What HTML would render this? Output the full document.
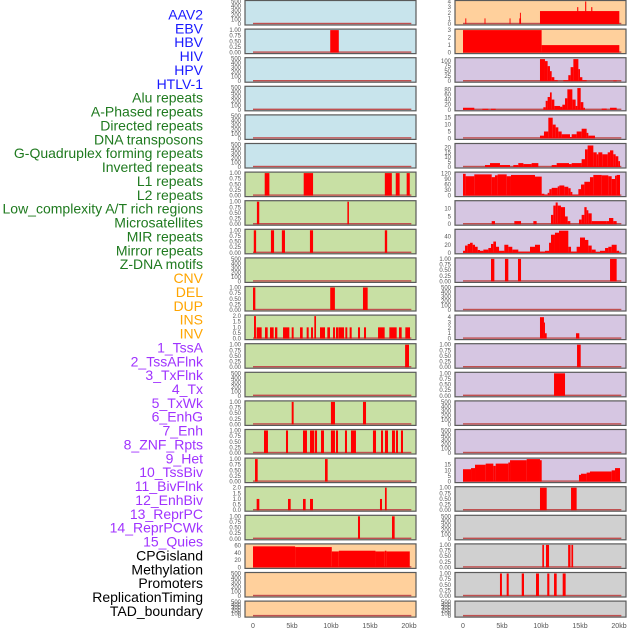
<!DOCTYPE html>
<html><head><meta charset="utf-8"><style>
html,body{margin:0;padding:0;background:#fff;width:630px;height:630px;overflow:hidden}
svg{display:block;font-family:"Liberation Sans",sans-serif}
</style></head><body>
<svg id="chart" width="630" height="630"></svg>
<script>
const labels=["AAV2","EBV","HBV","HIV","HPV","HTLV-1","Alu repeats","A-Phased repeats","Directed repeats","DNA transposons","G-Quadruplex forming repeats","Inverted repeats","L1 repeats","L2 repeats","Low_complexity A/T rich regions","Microsatellites","MIR repeats","Mirror repeats","Z-DNA motifs","CNV","DEL","DUP","INS","INV","1_TssA","2_TssAFlnk","3_TxFlnk","4_Tx","5_TxWk","6_EnhG","7_Enh","8_ZNF_Rpts","9_Het","10_TssBiv","11_BivFlnk","12_EnhBiv","13_ReprPC","14_ReprPCWk","15_Quies","CPGisland","Methylation","Promoters","ReplicationTiming","TAD_boundary"];
const labelColors=["#1a1aff","#1a1aff","#1a1aff","#1a1aff","#1a1aff","#1a1aff","#1f7a1f","#1f7a1f","#1f7a1f","#1f7a1f","#1f7a1f","#1f7a1f","#1f7a1f","#1f7a1f","#1f7a1f","#1f7a1f","#1f7a1f","#1f7a1f","#1f7a1f","#ffa500","#ffa500","#ffa500","#ffa500","#ffa500","#a033ff","#a033ff","#a033ff","#a033ff","#a033ff","#a033ff","#a033ff","#a033ff","#a033ff","#a033ff","#a033ff","#a033ff","#a033ff","#a033ff","#a033ff","#000","#000","#000","#000","#000"];
const xTicks=[0,5,10,15,20];
const xTickLabels=["0","5kb","10kb","15kb","20kb"];
// panel y-max per track (left column then right column)
const leftMax=[500,1,500,500,500,500,1,1,1,500,1,2,1,500,1,1,1,2,1,62,500,500];
const rightMax=[4,3,112,88,16.3,23,122,14.5,56,1,500,4.2,1,1,500,500,20,1,500,1,1,500];
const leftBg=["#c8e4ec","#c8e4ec","#c8e4ec","#c8e4ec","#c8e4ec","#c8e4ec","#c8e0a4","#c8e0a4","#c8e0a4","#c8e0a4","#c8e0a4","#c8e0a4","#c8e0a4","#c8e0a4","#c8e0a4","#c8e0a4","#c8e0a4","#c8e0a4","#c8e0a4","#ffd09c","#ffd09c","#ffd09c"];
const rightBg=["#ffd09c","#ffd09c","#d6c6e2","#d6c6e2","#d6c6e2","#d6c6e2","#d6c6e2","#d6c6e2","#d6c6e2","#d6c6e2","#d6c6e2","#d6c6e2","#d6c6e2","#d6c6e2","#d6c6e2","#d6c6e2","#d6c6e2","#d0d0d0","#d0d0d0","#d0d0d0","#d0d0d0","#d0d0d0"];
// segments [startKb, endKb, value]
const L02=[[9.9,11.0,1]];
const L07=[[1.5,2.1,1],[6.5,7.7,1],[16.9,17.8,1],[18.3,18.8,1],[19.7,20.1,1]];
const L08=[[0.5,0.8,1],[12.1,12.3,1]];
const L09=[[0.1,0.4,1],[2.3,2.7,1],[3.7,4.1,1],[7.3,7.7,1],[16.9,17.2,1]];
const L11=[[0,0.3,1],[9.9,10.5,1],[14.1,14.7,1]];
const L12=[[0.13,0.38,2],[0.47,1.11,1],[1.54,1.88,1],[2.18,2.65,1],[2.82,3.12,1],[3.85,4.66,1],[4.96,5.21,1],[6.03,6.37,1],[6.88,7.14,1],[7.44,7.69,1],[7.86,8.08,2],[8.59,9.23,1],[9.53,9.87,1],[10.26,10.51,1],[10.64,10.94,1],[10.98,11.67,1],[11.84,12.09,1],[12.39,12.65,1],[13.46,13.72,1],[14.23,14.49,1],[16.03,16.88,1],[17.48,18.42,1],[18.72,19.06,1],[19.53,20.13,1]];
const L13=[[19.5,20.0,1]];
const L15=[[4.96,5.21,1],[9.99,10.51,1],[14.1,14.49,1]];
const L16=[[1.41,1.92,1],[4.23,4.49,1],[6.41,6.92,1],[7.31,7.86,1],[7.95,8.21,1],[8.72,9.1,1],[9.99,10.51,1],[10.64,10.9,1],[11.79,12.05,1],[12.56,13.2,1],[15.38,15.77,1],[16.41,16.67,1],[16.92,17.31,1],[17.82,18.2,1],[18.33,18.59,1],[18.97,19.23,1]];
const L17=[[0.26,0.6,1],[9.23,9.57,1]];
const L18=[[0.47,0.81,1],[4.49,4.83,1],[6.41,6.75,1],[7.31,7.69,1],[16.28,16.54,1],[16.92,17.14,2]];
const L19=[[13.46,13.72,1],[17.82,18.16,1]];
const L20=[[0,5.4,58],[5.4,10.1,56],[10.1,11.0,44],[11.0,15.7,46],[15.7,16.9,44],[16.9,17.1,46],[17.1,20.1,44]];
const R01=[[0.3,0.42,1],[2.76,2.88,1],[5.97,6.09,1],[7.22,7.44,1],[7.3,7.42,2],[9.87,20.04,2.3],[14.64,14.78,3],[15.66,15.8,4],[16.44,16.58,3]];
const R02=[[0,10.08,3],[10.08,20.04,1]];
const R03=[[9.87,10.51,110],[10.51,10.85,100],[10.85,11.15,75],[11.15,11.37,50],[11.37,11.71,20],[11.71,12.14,5],[12.86,13.5,5],[13.5,13.8,30],[13.8,14.15,70],[14.15,14.79,110],[14.79,15.0,60],[15.0,15.3,20],[15.3,15.85,5],[19.27,19.7,3]];
const R04=[[0,1.45,8],[2.48,3.25,4],[3.59,4.19,4],[10.3,10.6,10],[10.6,10.85,35],[10.85,11.15,50],[11.15,11.37,68],[11.37,11.71,40],[11.71,12.44,15],[12.44,12.74,12],[12.74,13.08,20],[13.08,13.38,45],[13.38,14.02,80],[14.02,14.44,40],[14.44,14.66,15],[14.66,15.09,85],[15.09,15.43,30],[15.43,15.64,8],[17.78,18.42,5],[18.85,19.7,8]];
const R05=[[9.87,10.38,2],[10.38,10.94,5],[10.94,11.5,15],[11.5,11.88,10],[11.88,12.22,8],[12.22,12.65,5],[12.65,13.72,3],[13.72,13.93,1],[13.93,14.57,3],[14.57,15.21,5],[15.21,15.85,7],[15.85,16.07,4],[16.07,16.92,2]];
const R06=[[2.82,3.46,2],[3.46,4.74,4],[4.74,6.03,2],[6.45,7.09,2],[7.09,7.74,4],[7.74,8.8,3],[8.8,9.66,4],[11.37,12.01,2],[12.01,13.59,4],[13.59,13.93,3],[13.93,15.21,4],[15.21,15.64,8],[15.64,15.98,18],[15.98,16.71,22],[16.71,17.14,15],[17.14,17.35,13],[17.35,17.86,15],[17.86,18.55,13],[18.55,18.85,15],[18.85,19.27,17],[19.27,19.57,13],[19.57,19.91,11],[19.91,20.13,6]];
const R07=[[0,0.34,118],[0.34,1.45,105],[1.45,3.68,115],[3.68,4.1,100],[4.1,4.44,110],[4.44,5.6,115],[5.6,6.15,105],[6.15,9.23,112],[9.23,10.09,103],[10.09,10.43,10],[10.43,10.85,5],[10.85,11.07,15],[11.07,11.37,35],[11.37,12.14,42],[12.14,12.35,50],[12.35,12.99,55],[12.99,13.5,48],[13.5,13.8,40],[13.8,14.02,20],[14.02,14.79,5],[14.79,15.13,35],[15.13,15.56,60],[15.56,16.28,75],[16.28,16.71,100],[16.71,17.78,112],[17.78,18.63,110],[18.63,19.06,105],[19.06,19.49,90],[19.49,19.7,108],[19.7,20.13,112]];
const R08=[[3.68,4.1,2],[6.58,7.44,2],[9.02,9.44,2],[11.28,11.58,6],[11.58,11.88,12],[11.88,12.14,14],[12.14,12.56,12],[12.56,13.08,11],[13.08,13.42,5],[13.42,13.76,2],[14.87,15.21,3],[15.21,15.56,6],[15.56,15.85,11],[15.85,16.07,9],[16.07,16.5,7],[16.5,18.42,2],[18.42,18.72,2],[18.72,19.27,4],[19.27,19.7,2]];
const R09=[[0,0.26,5],[0.26,0.6,18],[0.6,0.9,22],[0.9,1.24,25],[1.24,1.54,20],[1.54,1.88,15],[1.88,2.18,7],[2.18,2.61,5],[2.61,3.25,8],[3.25,3.59,12],[3.59,3.89,22],[3.89,4.23,28],[4.23,4.62,15],[4.62,5.3,5],[5.3,5.81,20],[5.81,6.32,15],[6.32,7.09,8],[7.09,8.59,3],[8.59,9.23,15],[9.23,9.87,20],[9.87,10.51,3],[10.51,11.03,5],[11.03,11.28,25],[11.28,11.79,45],[11.79,12.31,50],[12.31,13.5,55],[13.5,13.85,15],[13.85,14.57,3],[14.57,15.0,15],[15.0,15.64,38],[15.64,16.07,32],[16.07,16.5,18],[16.5,17.01,8],[17.01,17.56,2],[17.56,18.21,5],[18.21,18.63,12],[18.63,19.06,15],[19.06,19.7,20],[19.7,20.0,5]];
const R10=[[3.59,4.02,1],[5.38,5.81,1],[7.05,7.44,1],[18.85,19.7,1]];
const R12=[[9.87,10.38,4],[10.38,10.51,3],[10.51,10.73,1],[14.49,14.91,1]];
const R13=[[14.62,15.09,1]];
const R14=[[11.67,13.08,1]];
const R17=[[0,1.03,11],[1.03,1.54,12],[1.54,2.91,15],[2.91,3.89,16],[3.89,4.19,14],[4.19,5.81,16],[5.81,6.03,17],[6.03,8.16,19],[8.16,9.87,20],[9.87,10.09,19],[14.87,15.13,6],[15.13,15.85,7],[15.85,16.28,8],[16.28,19.06,9],[19.06,19.49,10],[19.49,20.13,12]];
const R18=[[9.87,10.73,1],[13.85,14.57,1]];
const R20=[[10.17,10.38,1],[10.64,11.03,1],[13.48,13.78,1],[13.9,14.12,1]];
const R21=[[4.74,4.99,1],[5.6,5.86,1],[7.53,7.82,1],[9.36,9.74,1],[10.8,11.07,1],[11.67,12.01,1],[12.78,13.16,1]];
const leftData=[[],L02,[],[],[],[],L07,L08,L09,[],L11,L12,L13,[],L15,L16,L17,L18,L19,L20,[],[]];
const rightData=[R01,R02,R03,R04,R05,R06,R07,R08,R09,R10,[],R12,R13,R14,[],[],R17,R18,[],R20,R21,[]];

const NS="http://www.w3.org/2000/svg";
const svg=document.getElementById('chart');
function mk(tag,attrs,parent){const e=document.createElementNS(NS,tag);for(const k in attrs)e.setAttribute(k,attrs[k]);(parent||svg).appendChild(e);return e;}
function rowTop(i){return 0.5+i*28.6;}
function rowH(i){return i===21?16:24.5;}
function ticksFor(m){
  if(m===500)return [0,100,200,300,400,500];
  if(m===1)return [0,0.25,0.5,0.75,1];
  if(m===2)return [0,0.5,1,1.5,2];
  if(m===4||m===4.2)return [0,1,2,3,4];
  if(m===3)return [0,1,2,3];
  if(m===112)return [0,25,50,75,100];
  if(m===88)return [0,20,40,60,80];
  if(m===16.3)return [0,5,10,15];
  if(m===23)return [0,5,10,15,20];
  if(m===122)return [0,30,60,90,120];
  if(m===14.5)return [0,5,10];
  if(m===56)return [0,20,40];
  if(m===20)return [0,5,10,15];
  if(m===62)return [0,20,40,60];
  return [0,m];
}
function fmt(v,m){if(m===1)return v.toFixed(2);if(m===2)return v.toFixed(1);return String(v);}

function drawPanel(col,i,max,bg,data){
  const x0=col===0?245:455, x1=col===0?416:626;
  const xz=col===0?253:463;
  const xs=kb=>xz+kb*7.8;
  const top=rowTop(i),h=rowH(i);
  const g=mk('g',{});
  
  
  const r=mk('rect',{x:x0,y:top,width:x1-x0,height:h,fill:bg,stroke:'#5a5a5a','stroke-width':1.2},g);
  
  
  const ybot=top+h-1, ytop=top+1;
  const ys=v=>ybot-(v/max)*(ybot-ytop);
  // baseline
  const bl=mk('rect',{x:xs(0),y:ybot-1.2,width:xs(20.3)-xs(0),height:1.4,fill:'#c05050'},g);
  
  
  data.forEach(s=>{
    const b=mk('rect',{x:xs(s[0]),y:ys(s[2]),width:Math.max(0.8,xs(s[1])-xs(s[0])),height:ybot-ys(s[2]),fill:'#ff0000'},g);
    
    
  });
  // y ticks
  const tx=x0-4;
  ticksFor(max).forEach(v=>{
    let yy=ys(v)+2; if(yy<2)yy=2;
    const t=mk('text',{x:tx,y:yy,'font-size':6,fill:'#555','text-anchor':'end'},g);
    t.textContent=fmt(v,max);
    
    
  });
}
for(let i=0;i<22;i++){
  drawPanel(0,i,leftMax[i],leftBg[i],leftData[i]);
  drawPanel(1,i,rightMax[i],rightBg[i],rightData[i]);
}
// x axes
[253,463].forEach((xz,c)=>{
  xTicks.forEach((v,k)=>{
    const t=mk('text',{x:xz+v*7.8,y:628,'font-size':7,fill:'#555','text-anchor':'middle'});
    t.textContent=xTickLabels[k];
    
    
  });
});
// labels
labels.forEach((l,k)=>{
  const t=mk('text',{x:203,y:19.5+k*13.87,'font-size':14,fill:labelColors[k],'text-anchor':'end'});
  t.textContent=l;
  
  
});
</script>
</body></html>
